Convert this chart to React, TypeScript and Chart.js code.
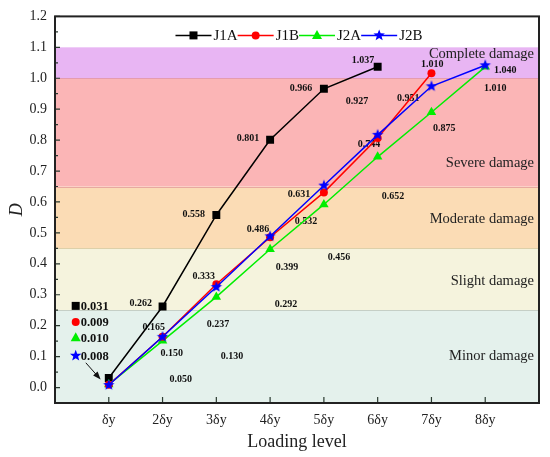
import React, { useEffect, useRef } from 'react';
import { Chart, registerables } from 'chart.js';

Chart.register(...registerables);

const SERIF = "'Times New Roman', 'Liberation Serif', serif";

// loading levels on the x axis (1..8)
const levelLabels = ['δy', '2δy', '3δy', '4δy', '5δy', '6δy', '7δy', '8δy'];
const yTicks = [0, 0.1, 0.2, 0.3, 0.4, 0.5, 0.6, 0.7, 0.8, 0.9, 1.0, 1.1, 1.2];

// damage index D per loading level
const j1a = [0.031, 0.262, 0.558, 0.801, 0.966, 1.037];
const j1b = [0.009, 0.164, 0.334, 0.486, 0.631, 0.807, 1.016];
const j2a = [0.010, 0.151, 0.293, 0.447, 0.592, 0.746, 0.89, 1.037];
const j2b = [0.008, 0.164, 0.325, 0.489, 0.653, 0.817, 0.974, 1.042];

// damage bands (upper limits)
const bandTops = [0.25, 0.45, 0.65, 1.0, 1.1];
const bandNames = ['Minor damage', 'Slight damage', 'Moderate damage', 'Severe damage', 'Complete damage'];
const bandColors = ['#e4f1ec', '#f5f3dd', '#fbdcb5', '#fbb5b6', '#e8b5f3'];
const bandEdges = ['#c5cfc6', '#ddd0a9', '#e7a9a0', '#e59cae'];
const bandLabelAt = [0.1, 0.344, 0.543, 0.727, 1.077];

// value notes: text, anchor (data coordinates)
const notes: [string, number, number][] = [
  ['0.262', 1.596, 0.273], ['0.165', 1.838, 0.193], ['0.150', 2.173, 0.109], ['0.050', 2.34, 0.026],
  ['0.333', 2.768, 0.36], ['0.237', 3.029, 0.203], ['0.130', 3.29, 0.1], ['0.558', 2.582, 0.56],
  ['0.486', 3.774, 0.511], ['0.399', 4.314, 0.389], ['0.292', 4.295, 0.27], ['0.801', 3.588, 0.804],
  ['0.631', 4.537, 0.624], ['0.532', 4.667, 0.537], ['0.456', 5.282, 0.421], ['0.966', 4.574, 0.968],
  ['0.927', 5.617, 0.926], ['0.744', 5.84, 0.785], ['0.652', 6.287, 0.617], ['1.037', 5.729, 1.058],
  ['1.010', 7.014, 1.045], ['0.951', 6.567, 0.936], ['0.875', 7.237, 0.839], ['1.040', 8.373, 1.026],
  ['1.010', 8.187, 0.968],
];

// first-level values called out at the left
const firstNotes = ['0.031', '0.009', '0.010', '0.008'];
const firstNoteY = [0.264, 0.212, 0.161, 0.103];

type Kind = 'rect' | 'circle' | 'triangle' | 'star';
const series: { name: string; data: number[]; color: string; kind: Kind }[] = [
  { name: 'J1A', data: j1a, color: '#000000', kind: 'rect' },
  { name: 'J1B', data: j1b, color: '#ff0000', kind: 'circle' },
  { name: 'J2A', data: j2a, color: '#00ee00', kind: 'triangle' },
  { name: 'J2B', data: j2b, color: '#0000ff', kind: 'star' },
];

function starPath(ctx: CanvasRenderingContext2D, cx: number, cy: number, r: number) {
  ctx.beginPath();
  for (let i = 0; i < 10; i++) {
    const rr = i % 2 ? r * 0.42 : r;
    const a = -Math.PI / 2 + (i * Math.PI) / 5;
    const px = cx + rr * Math.cos(a);
    const py = cy + rr * Math.sin(a);
    if (i) ctx.lineTo(px, py);
    else ctx.moveTo(px, py);
  }
  ctx.closePath();
}

function makeStar(color: string, r: number) {
  const c = document.createElement('canvas');
  const s = Math.ceil(r * 2 + 2);
  c.width = s;
  c.height = s;
  const g = c.getContext('2d')!;
  g.fillStyle = color;
  starPath(g, s / 2, s / 2, r);
  g.fill();
  return c;
}

function drawMarker(ctx: CanvasRenderingContext2D, kind: Kind, x: number, y: number, color: string) {
  ctx.fillStyle = color;
  if (kind === 'rect') {
    ctx.fillRect(x - 4, y - 4, 8, 8);
  } else if (kind === 'circle') {
    ctx.beginPath();
    ctx.arc(x, y, 4, 0, Math.PI * 2);
    ctx.fill();
  } else if (kind === 'triangle') {
    ctx.beginPath();
    ctx.moveTo(x, y - 5.5);
    ctx.lineTo(x + 5, y + 3.5);
    ctx.lineTo(x - 5, y + 3.5);
    ctx.closePath();
    ctx.fill();
  } else {
    starPath(ctx, x, y, 6);
    ctx.fill();
  }
}

const decorPlugin = {
  id: 'decor',
  beforeDatasetsDraw(chart: any) {
    const { ctx, chartArea: a, scales } = chart;
    const x = scales.x;
    const y = scales.y;
    ctx.save();
    let lo = y.min;
    bandTops.forEach((top, i) => {
      const y1 = y.getPixelForValue(top);
      const y0 = y.getPixelForValue(lo);
      ctx.fillStyle = bandColors[i];
      ctx.fillRect(a.left, y1, a.right - a.left, y0 - y1);
      lo = top;
    });
    ctx.lineWidth = 1;
    bandEdges.forEach((c, i) => {
      const py = Math.round(y.getPixelForValue(bandTops[i])) + 0.5;
      ctx.strokeStyle = c;
      ctx.beginPath();
      ctx.moveTo(a.left, py);
      ctx.lineTo(a.right, py);
      ctx.stroke();
    });
    ctx.fillStyle = '#222';
    ctx.font = `14.5px ${SERIF}`;
    ctx.textAlign = 'right';
    ctx.textBaseline = 'middle';
    bandNames.forEach((n, i) => ctx.fillText(n, a.right - 5, y.getPixelForValue(bandLabelAt[i])));

    ctx.fillStyle = '#111';
    ctx.font = `bold 10px ${SERIF}`;
    ctx.textAlign = 'center';
    notes.forEach(([t, nx, ny]) => ctx.fillText(t, x.getPixelForValue(nx), y.getPixelForValue(ny)));
    ctx.restore();
  },
  afterDatasetsDraw(chart: any) {
    const { ctx, chartArea: a, scales } = chart;
    const x = scales.x;
    const y = scales.y;
    ctx.save();
    // ticks
    ctx.strokeStyle = '#2a3a30';
    ctx.lineWidth = 1.2;
    ctx.beginPath();
    yTicks.forEach((v) => {
      const py = y.getPixelForValue(v);
      ctx.moveTo(a.left, py);
      ctx.lineTo(a.left + 5, py);
      if (v + 0.05 < y.max) {
        const pm = y.getPixelForValue(v + 0.05);
        ctx.moveTo(a.left, pm);
        ctx.lineTo(a.left + 3, pm);
      }
    });
    levelLabels.forEach((_, i) => {
      const px = x.getPixelForValue(i + 1);
      ctx.moveTo(px, a.bottom);
      ctx.lineTo(px, a.bottom - 6);
    });
    ctx.stroke();
    // frame
    ctx.strokeStyle = '#222';
    ctx.lineWidth = 2;
    ctx.strokeRect(a.left, a.top, a.right - a.left, a.bottom - a.top);

    // legend
    ctx.font = `15px ${SERIF}`;
    ctx.textBaseline = 'middle';
    ctx.textAlign = 'left';
    const lineLen = 36;
    const widths = series.map((s) => ctx.measureText(s.name).width);
    const total = widths.reduce((p, w) => p + lineLen + 2 + w, 0);
    let lx = (a.left + a.right) / 2 + 2 - total / 2;
    const ly = a.top + 19;
    series.forEach((s, i) => {
      ctx.strokeStyle = s.color;
      ctx.lineWidth = 1.5;
      ctx.beginPath();
      ctx.moveTo(lx, ly);
      ctx.lineTo(lx + lineLen, ly);
      ctx.stroke();
      drawMarker(ctx, s.kind, lx + lineLen / 2, ly, s.color);
      ctx.fillStyle = '#111';
      ctx.fillText(s.name, lx + lineLen + 2, ly + 1);
      lx += lineLen + 2 + widths[i];
    });

    // first-level call-outs
    ctx.font = `bold 12.5px ${SERIF}`;
    series.forEach((s, i) => {
      const py = y.getPixelForValue(firstNoteY[i]);
      drawMarker(ctx, s.kind, x.getPixelForValue(0.385), py, s.color);
      ctx.fillStyle = '#111';
      ctx.fillText(firstNotes[i], x.getPixelForValue(0.478), py + 1);
    });

    // arrow
    const x0 = x.getPixelForValue(0.573);
    const y0 = y.getPixelForValue(0.08);
    const x1 = x.getPixelForValue(0.849);
    const y1 = y.getPixelForValue(0.026);
    const ang = Math.atan2(y1 - y0, x1 - x0);
    ctx.strokeStyle = '#111';
    ctx.fillStyle = '#111';
    ctx.lineWidth = 1;
    ctx.beginPath();
    ctx.moveTo(x0, y0);
    ctx.lineTo(x1 - 5 * Math.cos(ang), y1 - 5 * Math.sin(ang));
    ctx.stroke();
    ctx.beginPath();
    ctx.moveTo(x1, y1);
    ctx.lineTo(x1 - 8 * Math.cos(ang) + 3 * Math.sin(ang), y1 - 8 * Math.sin(ang) - 3 * Math.cos(ang));
    ctx.lineTo(x1 - 8 * Math.cos(ang) - 3 * Math.sin(ang), y1 - 8 * Math.sin(ang) + 3 * Math.cos(ang));
    ctx.closePath();
    ctx.fill();
    ctx.restore();
  },
};

export default function App() {
  const chartRef = useRef<HTMLCanvasElement | null>(null);

  useEffect(() => {
    document.body.style.margin = '0';
    if (!chartRef.current) return;

    const star = makeStar('#0000ff', 6);
    const pointStyles: Record<Kind, any> = { rect: 'rect', circle: 'circle', triangle: 'triangle', star };
    const radius: Record<Kind, number> = { rect: 5.6, circle: 4, triangle: 5.5, star: 6 };
    const drawOrder: Record<string, number> = { J2B: 0, J1B: 1, J2A: 2, J1A: 3 };

    const chart = new Chart(chartRef.current, {
      type: 'line',
      data: {
        datasets: series.map((s) => ({
          label: s.name,
          data: s.data.map((v, i) => ({ x: i + 1, y: v })),
          borderColor: s.color,
          backgroundColor: s.color,
          borderWidth: 1.5,
          pointStyle: pointStyles[s.kind],
          pointRadius: radius[s.kind],
          pointBorderWidth: 0,
          order: drawOrder[s.name],
        })),
      },
      options: {
        animation: false,
        responsive: true,
        maintainAspectRatio: false,
        layout: { padding: { left: 0, top: 14, right: 11, bottom: 0 } },
        plugins: { legend: { display: false }, tooltip: { enabled: false } },
        scales: {
          x: {
            type: 'linear',
            min: 0,
            max: 9,
            afterBuildTicks: (s: any) => {
              s.ticks = levelLabels.map((_, i) => ({ value: i + 1 }));
            },
            afterFit: (s: any) => {
              s.height = 54;
            },
            grid: { display: false, drawTicks: false },
            border: { display: false },
            ticks: {
              callback: (v: any) => levelLabels[Number(v) - 1] ?? '',
              color: '#222',
              font: { family: SERIF, size: 14 },
              padding: 9,
              maxRotation: 0,
              autoSkip: false,
            },
            title: {
              display: true,
              text: 'Loading level',
              color: '#222',
              font: { family: SERIF, size: 18 },
              padding: { top: 0, bottom: 4 },
            },
          },
          y: {
            type: 'linear',
            min: -0.05,
            max: 1.2,
            afterBuildTicks: (s: any) => {
              s.ticks = yTicks.map((v) => ({ value: v }));
            },
            afterFit: (s: any) => {
              s.width = 55;
            },
            grid: { display: false, drawTicks: false },
            border: { display: false },
            ticks: {
              callback: (v: any) => Number(v).toFixed(1),
              color: '#222',
              font: { family: SERIF, size: 14 },
              padding: 8,
            },
            title: {
              display: true,
              text: 'D',
              color: '#222',
              font: { family: SERIF, size: 18, style: 'italic' },
              padding: { top: 6, bottom: 0 },
            },
          },
        },
      },
      plugins: [decorPlugin],
    });

    return () => {
      chart.destroy();
    };
  }, []);

  return (
    <div style={{ position: 'relative', width: 550, height: 457 }}>
      <canvas ref={chartRef} />
    </div>
  );
}
